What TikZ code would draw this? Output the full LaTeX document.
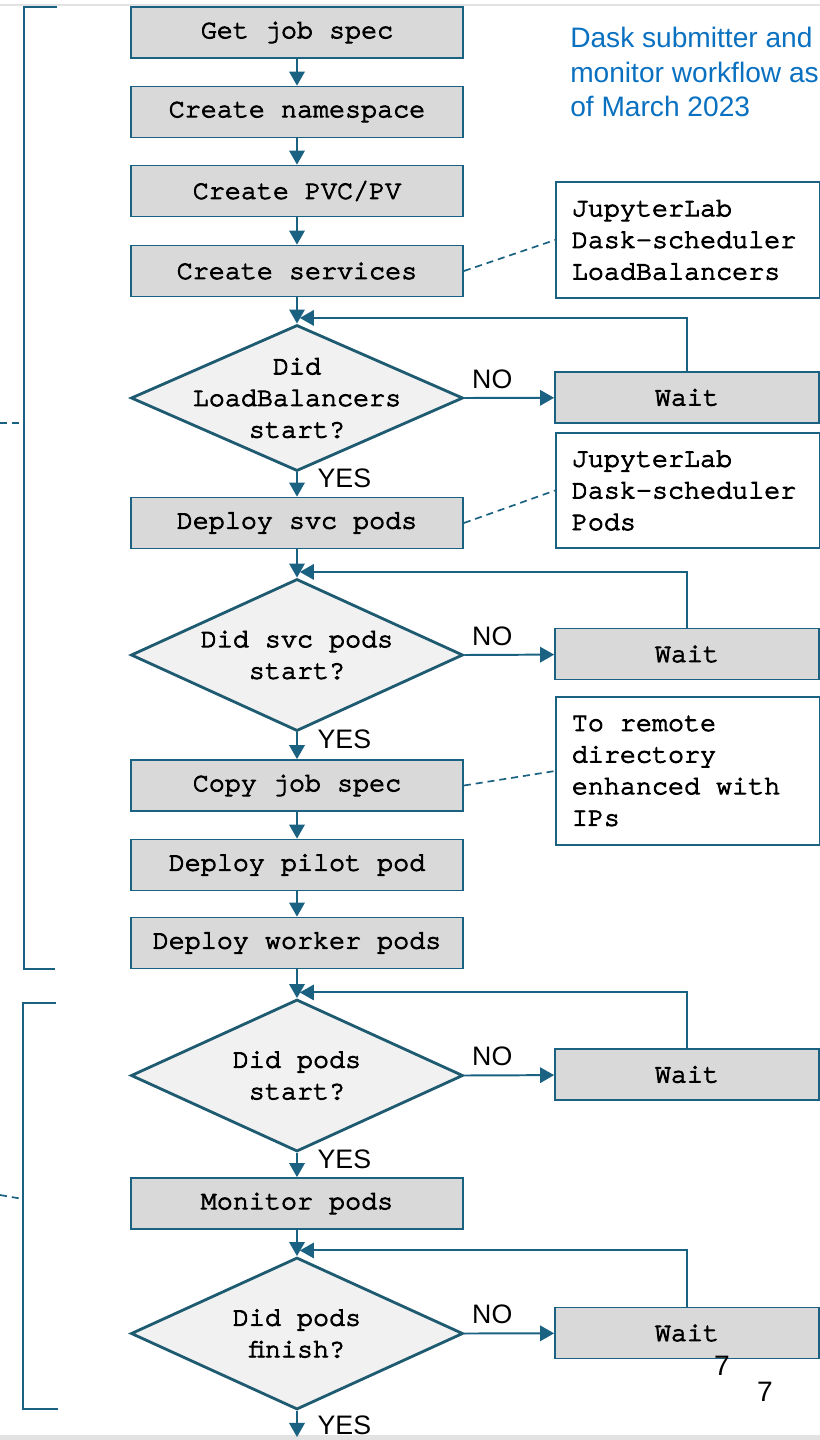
\documentclass[tikz,border=0pt]{standalone}
\usepackage{fontspec}
\setmainfont{Liberation Sans}
\newfontfamily\cursorfam{TeX Gyre Cursor}[FakeBold=3.5]
\usetikzlibrary{shapes.geometric,arrows.meta}

\definecolor{flowline}{HTML}{1B6282}
\definecolor{boxgrey}{HTML}{D9D9D9}
\definecolor{diafill}{HTML}{F1F1F1}
\definecolor{diaedge}{HTML}{1E5A70}
\definecolor{titleblue}{HTML}{0A70C0}
\definecolor{screenedge}{HTML}{E2E2E2}

\newcommand\courfont{\cursorfam\fontsize{19}{22.5}\selectfont}
\newcommand\labelfont{\fontsize{19}{22}\selectfont}

\begin{document}
\begin{tikzpicture}[x=0.025cm, y=-0.025cm,
        stepbox/.style={draw=flowline, line width=1.2pt, fill=boxgrey, minimum width=8.3cm, minimum height=1.275cm, inner sep=0pt, font=\courfont},
        waitbox/.style={stepbox, minimum width=6.6cm},
        decision/.style={diamond, draw=diaedge, line width=2pt, fill=diafill, minimum width=8.3cm, minimum height=3.8cm, inner sep=0pt},
        question/.style={align=center, inner sep=0pt, font=\courfont},
        notebox/.style={draw=flowline, line width=1.2pt, fill=white, anchor=west, minimum width=6.6cm, text width=5.8cm, inner xsep=0.4cm, align=left, font=\courfont, execute at begin node={\spaceskip=11.4pt\relax}},
        flow/.style={draw=flowline, line width=1.4pt, -{Triangle[length=10pt,width=11pt]}},
        notelink/.style={draw=flowline, line width=1.2pt, dash pattern=on 5pt off 3.5pt},
        bracket/.style={draw=flowline, line width=1.2pt},
        yes/.style={anchor=west, inner sep=0pt, xshift=14pt, pos=0.26, font=\labelfont},
        no/.style={anchor=south, inner sep=0pt, yshift=6pt, pos=0.31, font=\labelfont}]
    \useasboundingbox (0,0) rectangle (820,1440);
    \fill[screenedge] (0,3.5) rectangle (820,6);
    \fill[screenedge] (0,1435) rectangle (820,1440);
    % Below nodes are the steps of the flow.
        \node[stepbox] (getspec) at (297,32.5) {Get job spec};
        \node[stepbox] (namespace) at (297,112) {Create namespace};
        \node[stepbox] (pvc) at (297,191) {Create PVC/PV};
        \node[stepbox] (services) at (297,271) {Create services};
        \node[decision, minimum height=3.65cm] (lbstart) at (297,398) {};
        \node[question] at (lbstart) {Did\\LoadBalancers\\start?};
        \node[stepbox] (svcpods) at (297,523) {Deploy svc pods};
        \node[decision] (svcstart) at (297,655) {};
        \node[question] at (svcstart) {Did svc pods\\start?};
        \node[stepbox] (copyspec) at (297,785.5) {Copy job spec};
        \node[stepbox] (pilot) at (297,865) {Deploy pilot pod};
        \node[stepbox] (workers) at (297,943) {Deploy worker pods};
        \node[decision] (podstart) at (297,1075.5) {};
        \node[question] at (podstart) {Did pods\\start?};
        \node[stepbox] (monitor) at (297,1203.5) {Monitor pods};
        \node[decision] (podfinish) at (297,1333.5) {};
        \node[question] at (podfinish) {Did pods\\finish?};
        \coordinate (done) at (297,1437);
    % Wait boxes on the right.
        \node[waitbox] (waitlb) at (687,397.5) {Wait};
        \node[waitbox] (waitsvc) at (687,654) {Wait};
        \node[waitbox] (waitstart) at (687,1074.5) {Wait};
        \node[waitbox] (waitfinish) at (687,1333) {Wait};
    % Notes and title.
        \node[notebox, minimum height=2.9cm] (notelb) at (555,240) {JupyterLab\\Dask-scheduler\\LoadBalancers};
        \node[notebox, minimum height=2.875cm] (notesvc) at (555,490.5) {JupyterLab\\Dask-scheduler\\Pods};
        \node[notebox, minimum height=3.7cm] (notecopy) at (555,771) {To remote\\directory\\enhanced with\\IPs};
        \node[anchor=north west, inner sep=0pt, align=left, text=titleblue, font=\fontsize{20}{24.5}\selectfont] (title) at (570,27) {Dask submitter and\\monitor workflow as\\of March 2023};
        \node[font=\fontsize{20}{24}\selectfont, inner sep=0pt] (pagea) at (722,1366) {7};
        \node[font=\fontsize{20}{24}\selectfont, inner sep=0pt] (pageb) at (765,1392) {7};
    % This draws the arrows.
        \draw[flow] (getspec) -- (namespace);
        \draw[flow] (namespace) -- (pvc);
        \draw[flow] (pvc) -- (services);
        \draw[flow] (services) -- (lbstart.north);
        \draw[flow] (lbstart.south) -- node[yes] {YES} (svcpods);
        \draw[flow] (lbstart.east) -- node[no] {NO} (waitlb);
        \draw[flow] (waitlb.north) |- ([xshift=2pt,yshift=4pt]lbstart.north);
        \draw[flow] (svcpods) -- (svcstart.north);
        \draw[flow] (svcstart.south) -- node[yes] {YES} (copyspec);
        \draw[flow] (svcstart.east) -- node[no] {NO} (waitsvc);
        \draw[flow] (waitsvc.north) |- ([xshift=2pt,yshift=4pt]svcstart.north);
        \draw[flow] (copyspec) -- (pilot);
        \draw[flow] (pilot) -- (workers);
        \draw[flow] (workers) -- (podstart.north);
        \draw[flow] (podstart.south) -- node[yes] {YES} (monitor);
        \draw[flow] (podstart.east) -- node[no] {NO} (waitstart);
        \draw[flow] (waitstart.north) |- ([xshift=2pt,yshift=4pt]podstart.north);
        \draw[flow] (monitor) -- (podfinish.north);
        \draw[flow] (podfinish.south) -- node[yes, pos=0.55] {YES} (done);
        \draw[flow] (podfinish.east) -- node[no] {NO} (waitfinish);
        \draw[flow] (waitfinish.north) |- ([xshift=2pt,yshift=4pt]podfinish.north);
    % Dashed links to the notes.
        \draw[notelink] (services.east) -- (notelb.west);
        \draw[notelink] (svcpods.east) -- (notesvc.west);
        \draw[notelink] (copyspec.east) -- (notecopy.west);
    % The two brackets on the left.
        \draw[bracket] (57,7) -- (24,7) -- (24,969) -- (55,969);
        \draw[notelink] (0,423) -- (24,423);
        \draw[bracket] (56,1003) -- (23,1003) -- (23,1409) -- (58,1409);
        \draw[notelink] (0,1195) -- (23,1199);
\end{tikzpicture}
\end{document}
